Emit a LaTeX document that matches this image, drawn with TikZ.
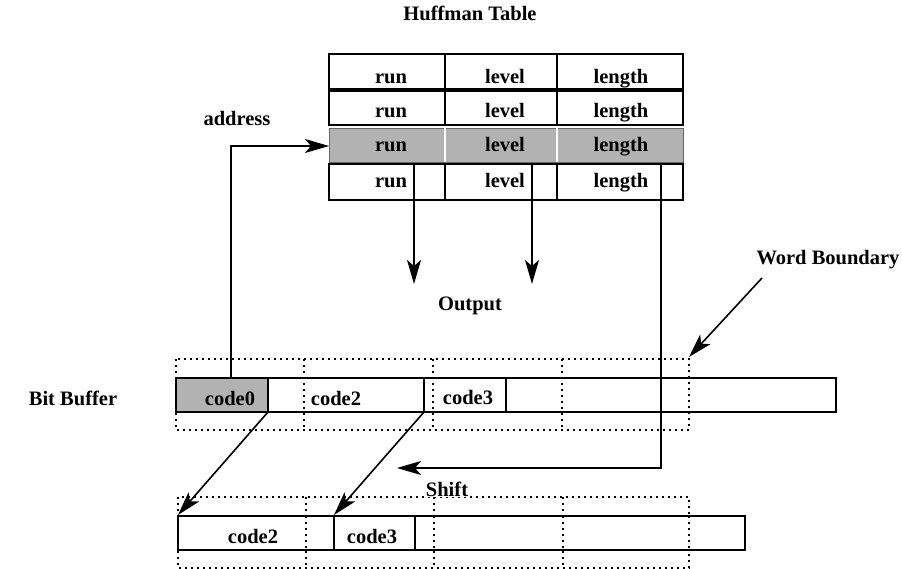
\documentclass[tikz,border=0pt]{standalone}
\usepackage{fontspec}
\setmainfont{Liberation Serif}
\usetikzlibrary{arrows.meta}

\begin{document}
\begin{tikzpicture}[x=1pt,y=-1pt,line width=1.6pt,
  lbl/.style={font=\bfseries\fontsize{20.5}{22}\selectfont,inner sep=0pt,anchor=base},
  shade/.style={fill=black!30},
  wordline/.style={line width=1.8pt,dash pattern=on 1.8pt off 4.2pt},
  arr/.style={-{Stealth[length=24pt,width=14pt,inset=6pt]}},
]
\useasboundingbox (0,0) rectangle (902,569);

% ---------- Huffman table ----------
\node[lbl] (title) at (470,21) {Huffman Table};

\draw (329,54) rectangle (683,89);
\draw (445,54) -- (445,89) (557,54) -- (557,89);
\draw (329,91) rectangle (683,125);
\draw (445,91) -- (445,125) (557,91) -- (557,125);
% selected entry
\fill[shade] (329,128) rectangle (683,162);
\draw[black!60,line width=0.8pt] (329,128) rectangle (683,162);
\draw[white,line width=2pt] (445,128) -- (445,162) (557,128) -- (557,162);
% last entry, with the field taps
\draw (329,164) rectangle (683,200);
\draw (414,164) -- (414,200) (445,164) -- (445,200)
      (532,164) -- (532,200) (557,164) -- (557,200)
      (661,164) -- (661,200);

\foreach \r/\y in {1/84,2/118,3/152,4/188}{
  \node[lbl] (run\r) at (391,\y) {run};
  \node[lbl] (level\r) at (505,\y) {level};
  \node[lbl] (length\r) at (621,\y) {length};
}

\coordinate (tapRun) at (414,200);
\coordinate (tapLevel) at (532,200);
\coordinate (tapLen) at (661,200);
\coordinate (entry) at (329,146);

% ---------- outputs ----------
\coordinate (outRun) at (414,284);
\coordinate (outLevel) at (532,284);
\draw[arr] (tapRun) -- (outRun);
\draw[arr] (tapLevel) -- (outLevel);
\node[lbl] (output) at (470,310) {Output};

% ---------- bit buffer ----------
\node[lbl] (bitbuf) at (73,405) {Bit Buffer};
\fill[shade] (176,378) rectangle (268,412);
\draw (176,378) rectangle (836,412);
\draw (268,378) -- (268,412) (424,378) -- (424,412) (506,378) -- (506,412);
\draw[wordline] (176,359) rectangle (689,430);
\draw[wordline] (304,359) -- (304,430) (433,359) -- (433,430) (562,359) -- (562,430);
\node[lbl] (c0) at (230,405) {code0};
\node[lbl] (c2) at (336,405) {code2};
\node[lbl] (c3) at (468,404) {code3};

\coordinate (c0top) at (231,378);
\coordinate (c0end) at (268,412);
\coordinate (c2end) at (424,412);

% address path into the table
\draw[arr] (c0top) |- (entry);
\node[lbl] (addr) at (237,126) {address};

% ---------- shifted buffer ----------
\draw[wordline] (178,497) rectangle (689,568);
\draw[wordline] (306,497) -- (306,568) (434,497) -- (434,568) (563,497) -- (563,568);
\fill[white] (178,516) rectangle (745,550);
\draw (178,516) rectangle (745,550);
\draw (334,516) -- (334,550) (415,516) -- (415,550);
\draw[wordline] (306,516) -- (306,550) (434,516) -- (434,550) (563,516) -- (563,550) (689,516) -- (689,550);
\node[lbl] (d2) at (253,543) {code2};
\node[lbl] (d3) at (372,543) {code3};

\coordinate (d2start) at (178,515);
\coordinate (d3start) at (334,515);
\draw[arr] (c0end) -- (d2start);
\draw[arr] (c2end) -- (d3start);

% shift amount from the length field
\coordinate (shiftTip) at (397,468);
\draw[arr] (tapLen) |- (shiftTip);
\node[lbl,fill=white,inner sep=1pt] (shift) at (447,496) {Shift};

% ---------- word boundary ----------
\node[lbl] (wb) at (828,265) {Word Boundary};
\coordinate (wbStart) at (762,278);
\coordinate (wbTip) at (689,357);
\draw[arr] (wbStart) -- (wbTip);
\end{tikzpicture}
\end{document}
